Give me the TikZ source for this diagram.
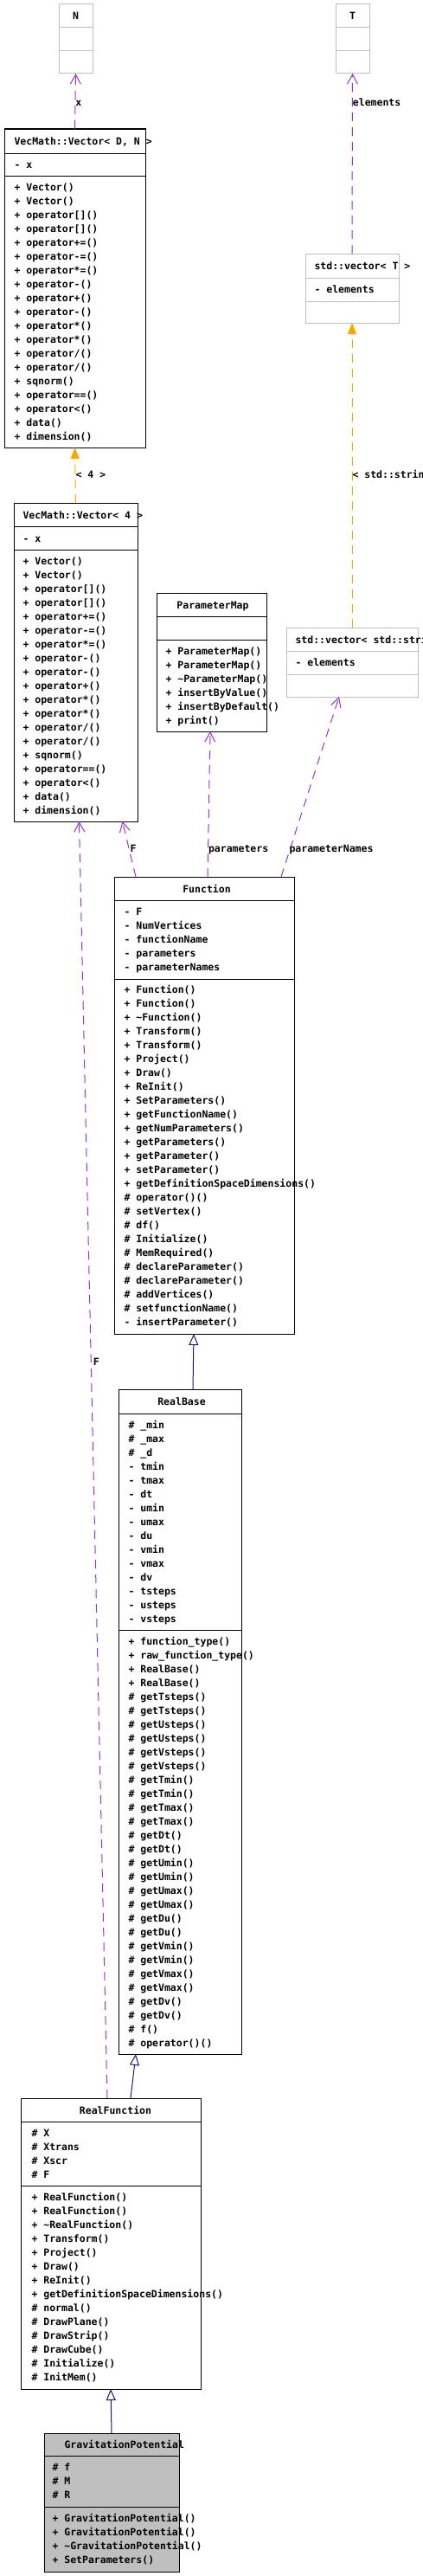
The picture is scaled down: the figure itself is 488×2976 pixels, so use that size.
\documentclass[tikz,border=0pt]{standalone}
\usepackage{fontspec}
\usepackage{xcolor}
\usepackage{tikz}
\usetikzlibrary{arrows.meta}

\newfontfamily\doxfont{DejaVu Sans Mono}
\definecolor{usecol}{HTML}{9A32CD}
\definecolor{tplcol}{HTML}{FFA500}
\definecolor{inhcol}{HTML}{191970}
\definecolor{extgray}{HTML}{BFBFBF}

\begin{document}
\begin{tikzpicture}[x=1pt,y=-1pt,line width=1pt,
    cls/.style={draw=black,anchor=north west,inner sep=0pt,outer sep=0pt},
    ext/.style={cls,draw=extgray},
    mem/.style={anchor=base west,inner sep=0pt,font=\doxfont\bfseries\fontsize{11.5}{16}\selectfont},
    ttl/.style={mem,anchor=base},
    uses/.style={draw=usecol,dash pattern=on 10pt off 7pt,-{Straight Barb[length=11pt,width=12pt]}},
    tmpl/.style={draw=tplcol,dash pattern=on 10pt off 7pt,-{Triangle[length=13pt,width=10pt]}},
    inh/.style={draw=inhcol,-{Triangle[open,length=13pt,width=11pt,fill=white]}}]
    \useasboundingbox[fill=white] (0,0) rectangle (488,2976);

    % template parameters
    \node[ext,minimum width=39pt,minimum height=80pt] (n) at (68,5) {};
    \draw[extgray] (68,32) -- (107,32) (68,59) -- (107,59);
    \node[ttl] (n-t) at (87.5,23) {N};
    \node[ext,minimum width=39pt,minimum height=80pt] (t) at (388,5) {};
    \draw[extgray] (388,32) -- (427,32) (388,59) -- (427,59);
    \node[ttl] (t-t) at (407.5,23) {T};

    % VecMath::Vector< D, N >
    \node[cls,minimum width=163pt,minimum height=368pt] (vecdn) at (5,149) {};
    \draw (5,177) -- (168,177) (5,203) -- (168,203);
    \node[mem] (vecdn-t) at (16,167) {VecMath::Vector< D, N >};
    \node[mem] (vecdn-a) at (16,194) {- x};
    \foreach \m [count=\i from 0] in {+ Vector(), + Vector(), + operator[](), + operator[](),
        + operator+=(), + operator-=(), + operator*=(), + operator-(), + operator+(),
        + operator-(), + operator*(), + operator*(), + operator/(), + operator/(),
        + sqnorm(), + operator==(), + operator<(), + data(), + dimension()}
      \node[mem] (vecdn-m\i) at (16,220+16*\i) {\m};

    % std::vector< T >
    \node[ext,minimum width=108pt,minimum height=80pt] (vect) at (353,293) {};
    \draw[extgray] (353,321) -- (461,321) (353,348) -- (461,348);
    \node[mem] (vect-t) at (363,311) {std::vector< T >};
    \node[mem] (vect-a) at (363,338) {- elements};

    % VecMath::Vector< 4 >
    \node[cls,minimum width=143pt,minimum height=368pt] (vec4) at (16,581) {};
    \draw (16,608) -- (159,608) (16,635) -- (159,635);
    \node[mem] (vec4-t) at (26,599) {VecMath::Vector< 4 >};
    \node[mem] (vec4-a) at (26,626) {- x};
    \foreach \m [count=\i from 0] in {+ Vector(), + Vector(), + operator[](), + operator[](),
        + operator+=(), + operator-=(), + operator*=(), + operator-(), + operator-(),
        + operator+(), + operator*(), + operator*(), + operator/(), + operator/(),
        + sqnorm(), + operator==(), + operator<(), + data(), + dimension()}
      \node[mem] (vec4-m\i) at (26,652+16*\i) {\m};

    % ParameterMap
    \node[cls,minimum width=127pt,minimum height=160pt] (parammap) at (181,685) {};
    \draw (181,712) -- (308,712) (181,739) -- (308,739);
    \node[ttl] (parammap-t) at (246,703) {ParameterMap};
    \foreach \m [count=\i from 0] in {+ ParameterMap(), + ParameterMap(), + \textasciitilde ParameterMap(),
        + insertByValue(), + insertByDefault(), + print()}
      \node[mem] (parammap-m\i) at (191,756+16*\i) {\m};

    % std::vector< std::string >
    \node[ext,minimum width=152pt,minimum height=80pt] (vecstr) at (331,725) {};
    \draw[extgray] (331,752) -- (483,752) (331,779) -- (483,779);
    \node[mem] (vecstr-t) at (341,743) {std::vector< std::string >};
    \node[mem] (vecstr-a) at (341,769) {- elements};

    % Function
    \node[cls,minimum width=208pt,minimum height=528pt] (func) at (132,1013) {};
    \draw (132,1040) -- (340,1040) (132,1131) -- (340,1131);
    \node[ttl] (func-t) at (239,1031) {Function};
    \foreach \m [count=\i from 0] in {- F, - NumVertices, - functionName, - parameters, - parameterNames}
      \node[mem] (func-a\i) at (143,1057+16*\i) {\m};
    \foreach \m [count=\i from 0] in {+ Function(), + Function(), + \textasciitilde Function(),
        + Transform(), + Transform(), + Project(), + Draw(), + ReInit(), + SetParameters(),
        + getFunctionName(), + getNumParameters(), + getParameters(), + getParameter(),
        + setParameter(), + getDefinitionSpaceDimensions(), \# operator()(), \# setVertex(),
        \# df(), \# Initialize(), \# MemRequired(), \# declareParameter(), \# declareParameter(),
        \# addVertices(), \# setfunctionName(), - insertParameter()}
      \node[mem] (func-m\i) at (143,1147+16*\i) {\m};

    % RealBase
    \node[cls,minimum width=142pt,minimum height=768pt] (realbase) at (137,1605) {};
    \draw (137,1633) -- (279,1633) (137,1883) -- (279,1883);
    \node[ttl] (realbase-t) at (210,1623) {RealBase};
    \foreach \m [count=\i from 0] in {\# \_min, \# \_max, \# \_d, - tmin, - tmax, - dt,
        - umin, - umax, - du, - vmin, - vmax, - dv, - tsteps, - usteps, - vsteps}
      \node[mem] (realbase-a\i) at (148,1650+16*\i) {\m};
    \foreach \m [count=\i from 0] in {+ function\_type(), + raw\_function\_type(), + RealBase(),
        + RealBase(), \# getTsteps(), \# getTsteps(), \# getUsteps(), \# getUsteps(),
        \# getVsteps(), \# getVsteps(), \# getTmin(), \# getTmin(), \# getTmax(), \# getTmax(),
        \# getDt(), \# getDt(), \# getUmin(), \# getUmin(), \# getUmax(), \# getUmax(),
        \# getDu(), \# getDu(), \# getVmin(), \# getVmin(), \# getVmax(), \# getVmax(),
        \# getDv(), \# getDv(), \# f(), \# operator()()}
      \node[mem] (realbase-m\i) at (148,1900+16*\i) {\m};

    % RealFunction
    \node[cls,minimum width=208pt,minimum height=336pt] (realfunc) at (24,2424) {};
    \draw (24,2451) -- (232,2451) (24,2525) -- (232,2525);
    \node[ttl] (realfunc-t) at (133.5,2442) {RealFunction};
    \foreach \m [count=\i from 0] in {\# X, \# Xtrans, \# Xscr, \# F}
      \node[mem] (realfunc-a\i) at (36,2468+16*\i) {\m};
    \foreach \m [count=\i from 0] in {+ RealFunction(), + RealFunction(), + \textasciitilde RealFunction(),
        + Transform(), + Project(), + Draw(), + ReInit(), + getDefinitionSpaceDimensions(),
        \# normal(), \# DrawPlane(), \# DrawStrip(), \# DrawCube(), \# Initialize(), \# InitMem()}
      \node[mem] (realfunc-m\i) at (36,2542+16*\i) {\m};

    % GravitationPotential
    \node[cls,fill=extgray,minimum width=156pt,minimum height=160pt] (gravpot) at (51,2811) {};
    \draw (51,2837) -- (207,2837) (51,2896) -- (207,2896);
    \node[mem] (gravpot-t) at (74,2828) {GravitationPotential};
    \foreach \m [count=\i from 0] in {\# f, \# M, \# R}
      \node[mem] (gravpot-a\i) at (60,2854+16*\i) {\m};
    \foreach \m [count=\i from 0] in {+ GravitationPotential(), + GravitationPotential(),
        + \textasciitilde GravitationPotential(), + SetParameters()}
      \node[mem] (gravpot-m\i) at (60,2913+16*\i) {\m};

    % relations
    \draw[uses] (vecdn.north) -- node[mem,pos=.42] (lx) {x} (n.south);
    \draw[uses] (vect.north) -- node[mem,pos=.82] (lelem) {elements} (t.south);
    \draw[tmpl] (vec4.north) -- node[mem,pos=.44] (lfour) {< 4 >} (vecdn.south);
    \draw[tmpl] (vecstr.north) -- node[mem,pos=.49] (lstr) {< std::string >} (vect.south);
    \draw[uses] ([xshift=-79pt]func.north) -- node[mem,pos=.44] (lf) {F} ([xshift=54pt]vec4.south);
    \draw[uses] ([xshift=4pt]func.north) -- node[mem,pos=.167] (lpar) {parameters} ([xshift=-1.5pt]parammap.south);
    \draw[uses] ([xshift=89pt]func.north) -- node[mem,pos=.135] (lnames) {parameterNames} ([xshift=-15pt]vecstr.south);
    \draw[uses] ([xshift=-4pt]realfunc.north) -- node[mem,pos=.574,xshift=2pt] (lf2) {F} ([xshift=4pt]vec4.south);
    \draw[inh] ([xshift=15pt]realbase.north) -- ([xshift=-12pt]func.south);
    \draw[inh] ([xshift=23pt]realfunc.north) -- ([xshift=-51pt]realbase.south);
    \draw[inh] (gravpot.north) -- (realfunc.south);
\end{tikzpicture}
\end{document}
